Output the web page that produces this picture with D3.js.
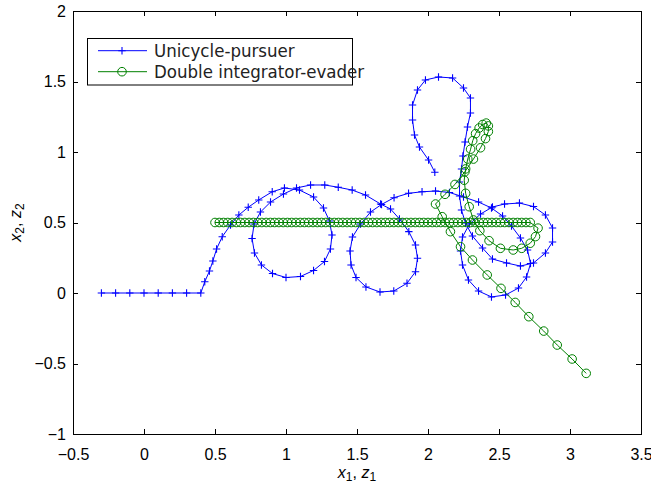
<!DOCTYPE html>
<html lang="en">
<head>
<meta charset="UTF-8">
<script src="https://d3js.org/d3.v7.min.js"></script>
<title>Pursuit-evasion trajectories</title>
<style>
  html, body { margin: 0; padding: 0; background: #fff; }
  svg { display: block; }
</style>
</head>
<body>
<div id="wrapper"></div>
<script>
// tick values
const xTicks = [-0.5, 0, 0.5, 1, 1.5, 2, 2.5, 3, 3.5];
const yTicks = [-1, -0.5, 0, 0.5, 1, 1.5, 2];

const seriesNames = ["Unicycle-pursuer", "Double integrator-evader"];
const seriesColors = ["#0000ff", "#008000"];

// unicycle pursuer path (x1, x2)
const pursuer = [
  [-0.3,0],[-0.2,0],[-0.1,0],[0,0],[0.1,0],[0.2,0],[0.3,0],[0.4,0],
  [0.428,0.080],[0.461,0.156],[0.485,0.227],[0.511,0.312],[0.551,0.399],[0.609,0.482],
  [0.668,0.553],[0.734,0.608],[0.808,0.660],[0.903,0.718],[0.989,0.745],
  [1.095,0.730],[1.194,0.681],[1.264,0.603],[1.306,0.511],[1.324,0.411],[1.313,0.312],
  [1.271,0.223],[1.194,0.160],[1.102,0.117],[1.000,0.110],[0.905,0.138],[0.827,0.199],
  [0.778,0.284],[0.761,0.387],[0.775,0.489],[0.820,0.574],[0.891,0.645],[0.982,0.702],
  [1.074,0.745],[1.173,0.766],[1.273,0.766],[1.368,0.750],[1.466,0.730],[1.560,0.695],
  [1.666,0.631],[1.736,0.596],[1.799,0.525],[1.865,0.435],[1.912,0.340],[1.926,0.246],
  [1.912,0.151],[1.852,0.069],[1.759,0.014],[1.662,0.007],[1.563,0.043],[1.493,0.110],
  [1.458,0.199],[1.451,0.298],[1.468,0.397],[1.525,0.489],[1.595,0.574],[1.673,0.628],
  [1.761,0.676],[1.863,0.707],[1.958,0.718],[2.053,0.723],[2.151,0.713],[2.250,0.681],
  [2.356,0.645],[2.447,0.603],[2.525,0.546],[2.588,0.475],[2.651,0.390],[2.701,0.305],
  [2.722,0.209],[2.694,0.113],[2.637,0.035],[2.546,-0.014],[2.447,-0.028],[2.356,0.014],
  [2.285,0.092],[2.243,0.199],[2.229,0.298],[2.243,0.397],[2.292,0.489],[2.370,0.560],
  [2.454,0.610],[2.539,0.631],[2.644,0.638],[2.743,0.613],[2.827,0.553],[2.877,0.461],
  [2.877,0.362],[2.827,0.284],[2.743,0.213],[2.651,0.191],[2.553,0.213],[2.454,0.241],
  [2.384,0.319],[2.313,0.404],[2.264,0.496],[2.236,0.589],[2.222,0.688],[2.222,0.787],
  [2.236,0.879],[2.246,0.972],[2.261,1.071],[2.278,1.177],[2.299,1.277],[2.299,1.383],
  [2.250,1.454],[2.173,1.525],[2.074,1.532],[1.982,1.511],[1.926,1.440],[1.891,1.333],
  [1.891,1.227],[1.905,1.121],[1.940,1.035],[2.004,0.943],[2.048,0.856]
];

// double integrator evader path (z1, z2)
const evader = [
  [0.50,0.5],[0.53,0.5],[0.56,0.5],[0.59,0.5],[0.62,0.5],[0.65,0.5],[0.68,0.5],[0.71,0.5],
  [0.74,0.5],[0.77,0.5],[0.80,0.5],[0.83,0.5],[0.86,0.5],[0.89,0.5],[0.92,0.5],[0.95,0.5],
  [0.98,0.5],[1.01,0.5],[1.04,0.5],[1.07,0.5],[1.10,0.5],[1.13,0.5],[1.16,0.5],[1.19,0.5],
  [1.22,0.5],[1.25,0.5],[1.28,0.5],[1.31,0.5],[1.34,0.5],[1.37,0.5],[1.40,0.5],[1.43,0.5],
  [1.46,0.5],[1.49,0.5],[1.52,0.5],[1.55,0.5],[1.58,0.5],[1.61,0.5],[1.64,0.5],[1.67,0.5],
  [1.70,0.5],[1.73,0.5],[1.76,0.5],[1.79,0.5],[1.82,0.5],[1.85,0.5],[1.88,0.5],[1.91,0.5],
  [1.94,0.5],[1.97,0.5],[2.00,0.5],[2.03,0.5],[2.06,0.5],[2.09,0.5],[2.12,0.5],[2.15,0.5],
  [2.18,0.5],[2.21,0.5],[2.24,0.5],[2.27,0.5],[2.30,0.5],[2.33,0.5],[2.36,0.5],[2.39,0.5],
  [2.42,0.5],[2.45,0.5],[2.48,0.5],[2.51,0.5],[2.54,0.5],[2.57,0.5],[2.60,0.5],[2.63,0.5],
  [2.66,0.5],[2.69,0.5],[2.72,0.5],
  [2.775,0.46],[2.757,0.40],[2.72,0.353],[2.66,0.317],[2.60,0.305],[2.51,0.317],[2.43,0.371],
  [2.365,0.442],[2.32,0.518],[2.29,0.612],[2.265,0.707],[2.255,0.80],[2.265,0.88],[2.28,0.95],
  [2.30,1.02],[2.315,1.08],[2.335,1.13],[2.36,1.17],[2.385,1.195],[2.41,1.205],[2.425,1.185],
  [2.425,1.145],[2.405,1.095],[2.37,1.03],[2.32,0.95],[2.26,0.86],[2.19,0.77],[2.12,0.70],
  [2.053,0.631],[2.10,0.541],[2.158,0.435],[2.229,0.328],[2.313,0.234],[2.417,0.128],
  [2.514,0.033],[2.614,-0.067],[2.71,-0.168],[2.815,-0.27],[2.91,-0.369],[3.015,-0.468],
  [3.114,-0.57]
];

const width = 651, height = 483;
const plot = {left: 73, right: 641, top: 11, bottom: 434};

const svg = d3.select("#wrapper").append("svg")
  .attr("width", width)
  .attr("height", height)
  .style("background", "#fff");

const xScale = d3.scaleLinear().domain([-0.5, 3.5]).range([plot.left, plot.right]);
const yScale = d3.scaleLinear().domain([-1, 2]).range([plot.bottom, plot.top]);

const fmt = d3.format("~g");
const tickFont = "'Liberation Sans', Arial, sans-serif";

// axes, ticks pointing inward on all four sides
function styleAxis(g) {
  g.attr("font-family", tickFont).attr("font-size", 16);
  g.selectAll("path.domain").attr("stroke", "#000").attr("shape-rendering", "crispEdges");
  g.selectAll(".tick line").attr("stroke", "#000").attr("shape-rendering", "crispEdges");
  g.selectAll(".tick text").attr("fill", "#000");
}

svg.append("g")
  .attr("transform", `translate(0,${plot.bottom})`)
  .call(d3.axisBottom(xScale).tickValues(xTicks).tickSizeInner(-5).tickSizeOuter(0)
        .tickPadding(15).tickFormat(fmt))
  .call(styleAxis);
svg.append("g")
  .attr("transform", `translate(0,${plot.top})`)
  .call(d3.axisTop(xScale).tickValues(xTicks).tickSizeInner(-5).tickSizeOuter(0).tickFormat(""))
  .call(styleAxis);
svg.append("g")
  .attr("transform", `translate(${plot.left},0)`)
  .call(d3.axisLeft(yScale).tickValues(yTicks).tickSizeInner(-5).tickSizeOuter(0)
        .tickPadding(7).tickFormat(fmt))
  .call(styleAxis);
svg.append("g")
  .attr("transform", `translate(${plot.right},0)`)
  .call(d3.axisRight(yScale).tickValues(yTicks).tickSizeInner(-5).tickSizeOuter(0).tickFormat(""))
  .call(styleAxis);

// data
const line = d3.line().x(d => xScale(d[0])).y(d => yScale(d[1]));
const plusPath = "M-3.7,0H3.7M0,-3.7V3.7";

const series = [pursuer, evader];
series.forEach((data, i) => {
  const g = svg.append("g");
  g.append("path")
    .datum(data)
    .attr("d", line)
    .attr("fill", "none")
    .attr("stroke", seriesColors[i])
    .attr("stroke-width", 1);
  if (i === 0) {
    g.selectAll("path.mark").data(data).join("path")
      .attr("class", "mark")
      .attr("transform", d => `translate(${xScale(d[0])},${yScale(d[1])})`)
      .attr("d", plusPath)
      .attr("stroke", seriesColors[i])
      .attr("stroke-width", 1.1);
  } else {
    g.selectAll("circle").data(data).join("circle")
      .attr("cx", d => xScale(d[0]))
      .attr("cy", d => yScale(d[1]))
      .attr("r", 4.3)
      .attr("fill", "none")
      .attr("stroke", seriesColors[i])
      .attr("stroke-width", 1);
  }
});

// axis labels
const xLabel = svg.append("text")
  .attr("x", (plot.left + plot.right) / 2)
  .attr("y", 478)
  .attr("text-anchor", "middle")
  .attr("font-family", tickFont)
  .attr("font-size", 16);
xLabel.append("tspan").attr("font-style", "italic").text("x");
xLabel.append("tspan").attr("font-size", 12).attr("dy", 3).text("1");
xLabel.append("tspan").attr("dy", -3).text(", ");
xLabel.append("tspan").attr("font-style", "italic").text("z");
xLabel.append("tspan").attr("font-size", 12).attr("dy", 3).text("1");

const yLabel = svg.append("text")
  .attr("transform", `translate(21,${(plot.top + plot.bottom) / 2}) rotate(-90)`)
  .attr("text-anchor", "middle")
  .attr("font-family", tickFont)
  .attr("font-size", 16);
yLabel.append("tspan").attr("font-style", "italic").text("x");
yLabel.append("tspan").attr("font-size", 12).attr("dy", 3).text("2");
yLabel.append("tspan").attr("dy", -3).text(", ");
yLabel.append("tspan").attr("font-style", "italic").text("z");
yLabel.append("tspan").attr("font-size", 12).attr("dy", 3).text("2");

// legend
const legend = svg.append("g");
legend.append("rect")
  .attr("x", 87.5).attr("y", 38.5)
  .attr("width", 265).attr("height", 46.5)
  .attr("fill", "#fff")
  .attr("stroke", "#000")
  .attr("stroke-width", 1);

seriesNames.forEach((name, i) => {
  const cy = 50.7 + i * 21;
  legend.append("line")
    .attr("x1", 98).attr("x2", 147)
    .attr("y1", cy).attr("y2", cy)
    .attr("stroke", seriesColors[i]).attr("stroke-width", 1);
  if (i === 0) {
    legend.append("path")
      .attr("transform", `translate(122,${cy})`)
      .attr("d", plusPath)
      .attr("stroke", seriesColors[i]).attr("stroke-width", 1.1);
  } else {
    legend.append("circle")
      .attr("cx", 122).attr("cy", cy).attr("r", 4.3)
      .attr("fill", "none").attr("stroke", seriesColors[i]);
  }
  legend.append("text")
    .attr("x", 154)
    .attr("y", cy + 6.5)
    .attr("font-family", "'DejaVu Sans Condensed', 'DejaVu Sans', sans-serif")
    .attr("font-stretch", "condensed")
    .attr("font-size", 18.5)
    .attr("fill", "#222")
    .text(name);
});
</script>
</body>
</html>
